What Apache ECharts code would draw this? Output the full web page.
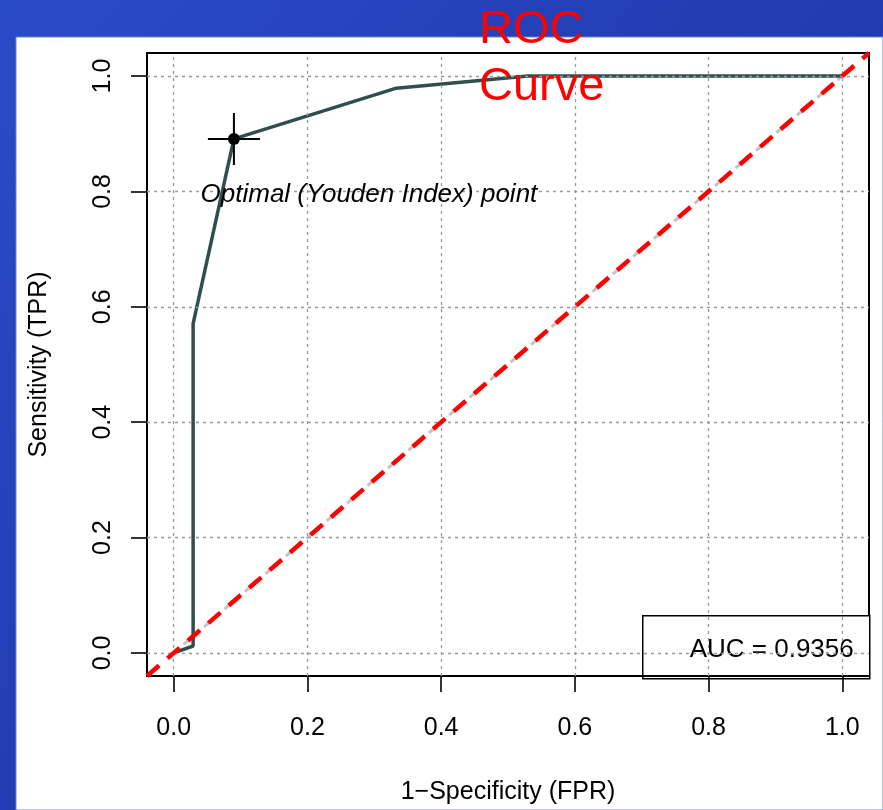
<!DOCTYPE html>
<html><head><meta charset="utf-8">
<script src="https://cdn.jsdelivr.net/npm/echarts@6/dist/echarts.min.js"></script>
<style>html,body{margin:0;padding:0;background:#fff;}#c{width:883px;height:810px;}</style>
</head><body><div id="c"></div>
<script>
// ---- data ----
const fpr = [0, 0.029, 0.029, 0.09, 0.333, 0.53, 1.0];
const tpr = [0, 0.012, 0.571, 0.891, 0.979, 1.0, 1.0];
const optimalPoint = [0.09, 0.891];
const annotationPos = [0.292, 0.795];
const annotationText = 'Optimal (Youden Index) point';
const tickValues = [0, 0.2, 0.4, 0.6, 0.8, 1.0];
const axisMin = -0.04, axisMax = 1.04;
const refLine = [[0, 0], [1, 1]];
const ablineLine = [[axisMin, axisMin], [axisMax, axisMax]];
const aucText = 'AUC = 0.9356';
const titleText = 'ROC\nCurve';
const xName = '1\u2212Specificity (FPR)';
const yName = 'Sensitivity (TPR)';

const FONT = '"Liberation Sans", Arial, Helvetica, sans-serif';
const rocData = fpr.map((x, i) => [x, tpr[i]]);

const chart = echarts.init(document.getElementById('c'), null, {renderer: 'canvas'});
const crossPath = 'path://M0,25 L52,25 L52,27 L0,27 Z M25,0 L27,0 L27,52 L25,52 Z';

const axisLineStyle = {show: true, onZero: false, lineStyle: {color: '#000', width: 2}};
const tickStyle = {show: true, inside: false, length: 16, customValues: tickValues, lineStyle: {color: '#000', width: 1.6}};

const option = {
  animation: false,
  backgroundColor: 'transparent',
  title: {
    text: titleText,
    left: 479, top: 2, padding: 0,
    textStyle: {color: '#ff0000', fontSize: 47, fontWeight: 'normal', fontFamily: FONT, lineHeight: 57}
  },
  graphic: [
    {type: 'rect', z: -10, silent: true, shape: {x: 0, y: 0, width: 883, height: 810},
     style: {fill: new echarts.graphic.LinearGradient(0, 0, 1, 1, [
       {offset: 0, color: '#2a4bc8'}, {offset: 1, color: '#1a2d9c'}])}},
    {type: 'rect', z: -9, silent: true, shape: {x: 16, y: 37, width: 867, height: 773},
     style: {fill: '#ffffff', stroke: '#6f82d4', lineWidth: 1}},
    {type: 'group', z: 100, left: 642, top: 615, children: [
      {type: 'rect', shape: {x: 0, y: 0, width: 227, height: 63},
       style: {fill: '#ffffff', stroke: '#000', lineWidth: 1.5}},
      {type: 'text', x: 211, y: 34,
       style: {text: aucText, fill: '#000', font: '26px ' + FONT, textAlign: 'right', textVerticalAlign: 'middle'}}
    ]}
  ],
  grid: {left: 147, top: 53, right: 14, bottom: 132, show: true, borderColor: '#000', borderWidth: 2, backgroundColor: 'transparent'},
  xAxis: {
    type: 'value', min: axisMin, max: axisMax,
    name: xName, nameLocation: 'middle', nameGap: 104,
    nameTextStyle: {fontSize: 25, fontFamily: FONT, color: '#000'},
    axisLine: axisLineStyle,
    axisTick: tickStyle,
    axisLabel: {customValues: tickValues, formatter: v => v.toFixed(1), margin: 40, fontSize: 25, fontFamily: FONT, color: '#000'},
    splitLine: {show: false}
  },
  yAxis: {
    type: 'value', min: axisMin, max: axisMax,
    name: yName, nameLocation: 'middle', nameGap: 95, nameRotate: 90,
    nameTextStyle: {fontSize: 25, fontFamily: FONT, color: '#000'},
    axisLine: axisLineStyle,
    axisTick: tickStyle,
    axisLabel: {customValues: tickValues, formatter: v => v.toFixed(1), rotate: 90, margin: 31, fontSize: 25, fontFamily: FONT, color: '#000'},
    splitLine: {show: false}
  },
  series: [
    {type: 'line', z: 2, data: refLine, symbol: 'none', silent: true,
     lineStyle: {color: '#c4c4c4', width: 3, type: [16, 11], dashOffset: 14}},
    {type: 'line', z: 3, data: rocData, symbol: 'none', silent: true,
     lineStyle: {color: '#2f4f4f', width: 3.5}},
    {type: 'line', z: 4, data: [], silent: true,
     markLine: {silent: true, symbol: 'none', label: {show: false},
       lineStyle: {color: '#9a9a9a', width: 1.3, type: [3, 4]},
       data: tickValues.map(v => ({xAxis: v})).concat(tickValues.map(v => ({yAxis: v})))}},
    {type: 'line', z: 5, data: ablineLine, symbol: 'none', silent: true,
     lineStyle: {color: '#ff0000', width: 4.5, type: [16, 11]}},
    {type: 'scatter', z: 6, data: [optimalPoint], symbol: crossPath, symbolSize: 52, silent: true,
     itemStyle: {color: '#000', opacity: 1}},
    {type: 'scatter', z: 7, data: [optimalPoint], symbol: 'circle', symbolSize: 12, silent: true,
     itemStyle: {color: '#000', opacity: 1}},
    {type: 'scatter', z: 8, data: [annotationPos], symbolSize: 0, silent: true,
     itemStyle: {opacity: 1},
     label: {show: true, position: 'inside', formatter: annotationText, fontSize: 26, fontStyle: 'italic', fontFamily: FONT, color: '#000', opacity: 1}}
  ]
};
chart.setOption(option);
</script>
</body></html>
